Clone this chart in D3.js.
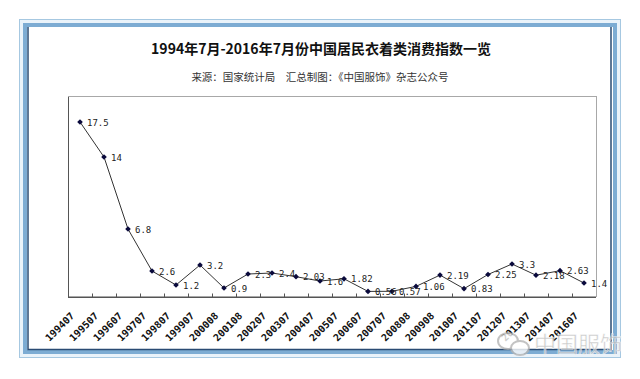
<!DOCTYPE html>
<html>
<head>
<meta charset="utf-8">
<script src="https://cdn.jsdelivr.net/npm/d3@7"></script>
<style>
body { margin: 0; background: #fff; }
svg { display: block; }
</style>
</head>
<body>
<svg id="chart" width="640" height="379"></svg>
<script>
var titleText = '1994年7月-2016年7月份中国居民衣着类消费指数一览';
var subtitleText = '来源：国家统计局　汇总制图：《中国服饰》杂志公众号';
var watermarkText = '中国服饰';

var categories = ['199407', '199507', '199607', '199707', '199807', '199907', '200008', '200108',
    '200207', '200307', '200407', '200507', '200607', '200707', '200808', '200908',
    '201007', '201107', '201207', '201307', '201407', '201607'];
var values = [17.5, 14, 6.8, 2.6, 1.2, 3.2, 0.9, 2.3, 2.4, 2.03, 1.6, 1.82,
    0.56, 0.57, 1.06, 2.19, 0.83, 2.25, 3.3, 2.18, 2.63, 1.4];
var yDomain = [0, 20];

(function () {
    var svg = d3.select('#chart'),
        plot = {left: 68, right: 596, top: 97, bottom: 297},
        x,
        y,
        g,
        wm;

    //frame
    svg.append('rect')
        .attr('x', 19.5).attr('y', 19.5)
        .attr('width', 601).attr('height', 338)
        .attr('fill', '#eaf3fa')
        .attr('stroke', '#a6c8e1');

    svg.append('rect')
        .attr('x', 25).attr('y', 25)
        .attr('width', 590).attr('height', 327)
        .attr('fill', '#fff')
        .attr('stroke', '#7dacd3')
        .attr('stroke-width', 4);

    svg.append('path')
        .attr('d', 'M28,27V349.5H611V27')
        .attr('fill', 'none')
        .attr('stroke', '#2a4b73')
        .attr('stroke-width', 1.5);

    //titles
    svg.append('text')
        .attr('x', 321).attr('y', 54)
        .attr('text-anchor', 'middle')
        .style('font-family', '"Noto Sans CJK SC", sans-serif')
        .style('font-size', '14px')
        .style('font-weight', 'bold')
        .attr('fill', '#111')
        .text(titleText);

    svg.append('text')
        .attr('x', 320).attr('y', 81)
        .attr('text-anchor', 'middle')
        .style('font-family', '"Noto Sans CJK SC", sans-serif')
        .style('font-size', '10.5px')
        .attr('fill', '#333')
        .text(subtitleText);

    //scales
    x = d3.scaleBand()
        .domain(categories)
        .range([plot.left, plot.right]);

    y = d3.scaleLinear()
        .domain(yDomain)
        .range([plot.bottom, plot.top]);

    // plot area border
    svg.append('rect')
        .attr('x', plot.left + 0.5).attr('y', plot.top - 0.5)
        .attr('width', plot.right - plot.left).attr('height', plot.bottom - plot.top)
        .attr('fill', 'none')
        .attr('stroke', '#a8a8a8');

    svg.append('line')
        .attr('x1', plot.left + 0.5).attr('x2', plot.left + 0.5)
        .attr('y1', plot.top).attr('y2', plot.bottom)
        .attr('stroke', '#555');

    // x axis, ticks on category boundaries pointing inward
    g = svg.append('g')
        .attr('transform', 'translate(0,' + (plot.bottom + 0.5) + ')');

    g.append('line')
        .attr('x1', plot.left).attr('x2', plot.right)
        .attr('stroke', '#555');

    g.selectAll('line.tick')
        .data(categories.slice(1))
        .enter().append('line')
        .attr('class', 'tick')
        .attr('x1', function (d) { return Math.round(x(d)) + 0.5; })
        .attr('x2', function (d) { return Math.round(x(d)) + 0.5; })
        .attr('y1', 0).attr('y2', -4)
        .attr('stroke', '#555');

    g.selectAll('text')
        .data(categories)
        .enter().append('text')
        .attr('transform', function (d) {
            return 'translate(' + (x(d) + x.bandwidth() / 2 - 5) + ',19) rotate(-45)';
        })
        .attr('text-anchor', 'end')
        .style('font-family', '"DejaVu Sans Mono", monospace')
        .style('font-size', '10px')
        .style('font-weight', 'bold')
        .attr('fill', '#111')
        .text(function (d) { return d; });

    // series
    var pts = categories.map(function (c, i) {
        return {c: c, v: values[i]};
    });

    svg.append('path')
        .datum(pts)
        .attr('fill', 'none')
        .attr('stroke', '#333')
        .attr('stroke-width', 1)
        .attr('d', d3.line()
            .x(function (d) { return x(d.c) + x.bandwidth() / 2; })
            .y(function (d) { return y(d.v); }));

    svg.selectAll('path.marker')
        .data(pts)
        .enter().append('path')
        .attr('class', 'marker')
        .attr('d', d3.symbol(d3.symbolSquare, 16))
        .attr('transform', function (d) {
            return 'translate(' + (x(d.c) + x.bandwidth() / 2) + ',' + y(d.v) + ') rotate(45)';
        })
        .attr('fill', '#0a0a3c');

    svg.selectAll('text.lbl')
        .data(pts)
        .enter().append('text')
        .attr('class', 'lbl')
        .attr('x', function (d) { return x(d.c) + x.bandwidth() / 2 + 7; })
        .attr('y', function (d) { return y(d.v) + 3.5; })
        .style('font-family', '"DejaVu Sans Mono", monospace')
        .style('font-size', '9px')
        .attr('fill', '#222')
        .text(function (d) { return String(d.v); });

    // watermark
    wm = svg.append('g').attr('opacity', 0.8);
    wm.append('ellipse')
        .attr('cx', 508).attr('cy', 341).attr('rx', 10).attr('ry', 8)
        .attr('fill', '#fff').attr('stroke', '#b5b5b5').attr('stroke-width', 2);
    wm.append('ellipse')
        .attr('cx', 520).attr('cy', 348).attr('rx', 9).attr('ry', 7)
        .attr('fill', '#fff').attr('stroke', '#b5b5b5').attr('stroke-width', 2);
    wm.append('text')
        .attr('x', 534).attr('y', 352)
        .style('font-family', '"Noto Sans CJK SC", sans-serif')
        .style('font-size', '22px')
        .attr('fill', '#bcbcbc')
        .attr('stroke', '#fff')
        .attr('stroke-width', 0.5)
        .text(watermarkText);
}());
</script>
</body>
</html>
